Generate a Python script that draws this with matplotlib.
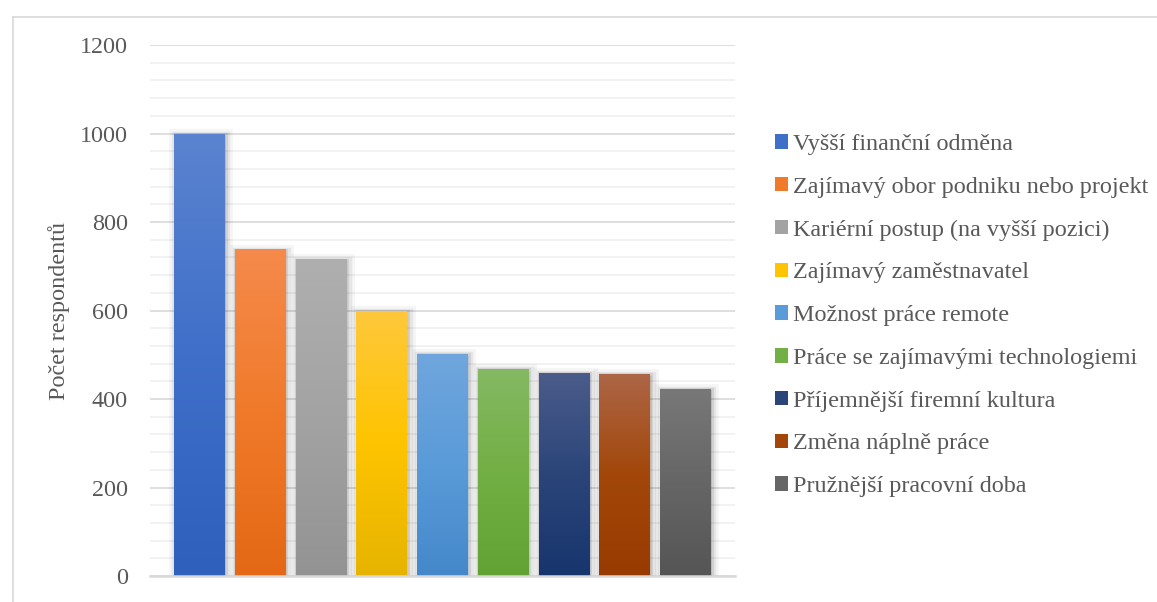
import numpy as np
import matplotlib
matplotlib.use("Agg")
import matplotlib.pyplot as plt
import matplotlib.patheffects as pe
from matplotlib.colors import LinearSegmentedColormap
from matplotlib.lines import Line2D

plt.rcParams["font.family"] = ["Liberation Serif", "DejaVu Serif"]

# data
labels = [
    "Vyšší finanční odměna",
    "Zajímavý obor podniku nebo projekt",
    "Kariérní postup (na vyšší pozici)",
    "Zajímavý zaměstnavatel",
    "Možnost práce remote",
    "Práce se zajímavými technologiemi",
    "Příjemnější firemní kultura",
    "Změna náplně práce",
    "Pružnější pracovní doba",
]
values = [1000, 738, 716, 600, 502, 468, 459, 457, 423]

# gradient colours per bar: top, middle, bottom
top_colors = ["#5b84d0", "#f58a4c", "#afafaf", "#ffc83c", "#70a6dd", "#85b964", "#4b5c8b", "#ad6647", "#787878"]
mid_colors = ["#3f6fc9", "#f07a2a", "#a3a3a3", "#fec400", "#5a9bd9", "#72af44", "#2b4579", "#a24709", "#666666"]
bot_colors = ["#2e60bc", "#e46815", "#939393", "#e6b400", "#4588ca", "#62a234", "#17356d", "#983b02", "#555555"]

text_col = "#595959"
fs = 17.4

fig = plt.figure(figsize=(11.57, 6.02), dpi=100)
ax = fig.add_axes([150 / 1157, 26 / 602, 585 / 1157, 531 / 602])

x = np.arange(len(values))
shadow = [
    pe.Stroke(linewidth=10, foreground="#000000", alpha=0.04, offset=(1.5, -1.5)),
    pe.Stroke(linewidth=6, foreground="#000000", alpha=0.06, offset=(1.5, -1.5)),
    pe.Stroke(linewidth=3, foreground="#000000", alpha=0.09, offset=(1.0, -1.0)),
    pe.Normal(),
]
bars = ax.bar(x, values, width=0.825, color=mid_colors, zorder=3, linewidth=0)

grad = np.linspace(0, 1, 256).reshape(-1, 1)
for i, b in enumerate(bars):
    b.set_path_effects(shadow)
    cmap = LinearSegmentedColormap.from_list(
        "g%d" % i, [bot_colors[i], mid_colors[i], top_colors[i]])
    x0, w, h = b.get_x(), b.get_width(), b.get_height()
    im = ax.imshow(grad, cmap=cmap, origin="lower", aspect="auto",
                   extent=(x0, x0 + w, 0, h), zorder=4, interpolation="bicubic")
    im.set_clip_path(b)

ax.set_xlim(-0.81, 8.82)
ax.set_ylim(0, 1200)
ax.set_yticks(np.arange(0, 1201, 200))
ax.set_yticks(np.arange(0, 1201, 40), minor=True)
ax.grid(True, which="major", axis="y", color="#d9d9d9", linewidth=1.2, zorder=0)
ax.grid(True, which="minor", axis="y", color="#f0f0f0", linewidth=1.2, zorder=0)
ax.set_xticks([])
ax.tick_params(axis="y", which="both", length=0, labelsize=fs, labelcolor=text_col, pad=16)
for s in ["top", "right", "left"]:
    ax.spines[s].set_visible(False)
ax.spines["bottom"].set_color("#d9d9d9")
ax.spines["bottom"].set_linewidth(1.8)
ax.spines["bottom"].set_zorder(5)

ax.set_ylabel("Počet respondentů", fontsize=fs, color=text_col)
ax.yaxis.set_label_coords(-0.137, 0.5)

leg = fig.legend(bars, labels, loc="upper left",
                 bbox_to_anchor=(775 / 1157, 1 - 134 / 602),
                 frameon=False, fontsize=fs, labelcolor=text_col,
                 handlelength=0.55, handleheight=0.55, handletextpad=0.2,
                 labelspacing=0.9, borderpad=0, borderaxespad=0)
for h in leg.legend_handles:
    h.set_path_effects([])

# chart area border (left and top visible)
fig.add_artist(Line2D([12.5 / 1157, 12.5 / 1157], [0, 1 - 16.5 / 602],
                      transform=fig.transFigure, color="#d9d9d9", linewidth=1.2))
fig.add_artist(Line2D([12.5 / 1157, 1], [1 - 16.5 / 602, 1 - 16.5 / 602],
                      transform=fig.transFigure, color="#d9d9d9", linewidth=1.2))

fig.savefig("out.png", dpi=100)
